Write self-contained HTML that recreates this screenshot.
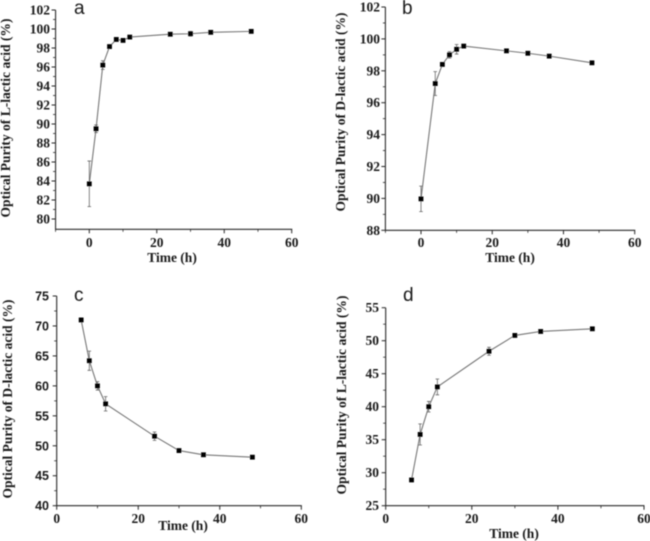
<!DOCTYPE html>
<html lang="en">
<head>
<meta charset="utf-8">
<title>Optical purity over time</title>
<style>
html,body{margin:0;padding:0;background:#fff;width:650px;height:541px;overflow:hidden}
svg{display:block}
text{font-family:"Liberation Serif",serif;font-weight:bold;fill:#1a1a1a}
.sans{font-family:"Liberation Sans",sans-serif}
</style>
</head>
<body>
<svg id="chart" xmlns="http://www.w3.org/2000/svg" width="650" height="541" viewBox="0 0 650 541">
<defs><filter id="soft" x="-5%" y="-5%" width="110%" height="110%"><feGaussianBlur stdDeviation="0.45"/></filter></defs>
<g id="root" filter="url(#soft)"></g>
</svg>
<script>
var panelNames = ['a', 'b', 'c', 'd'];
var timeA = [0, 2, 4, 6, 8, 10, 12, 24, 30, 36, 48];
var purityA = [83.7, 89.5, 96.2, 98.15, 98.9, 98.8, 99.15, 99.45, 99.5, 99.65, 99.75];
var errorA = [2.4, 0.4, 0.45, 0.1, 0.1, 0.1, 0.1, 0.1, 0.25, 0.1, 0.1];
var timeB = [0, 4, 6, 8, 10, 12, 24, 30, 36, 48];
var purityB = [89.97, 97.2, 98.4, 99, 99.35, 99.55, 99.25, 99.1, 98.92, 98.5];
var errorB = [0.8, 0.75, 0.1, 0.2, 0.3, 0.1, 0.08, 0.08, 0.08, 0.08];
var timeC = [6, 8, 10, 12, 24, 30, 36, 48];
var purityC = [71, 64.2, 60, 57, 51.6, 49.2, 48.5, 48.1];
var errorC = [0.3, 1.6, 0.7, 1.2, 0.7, 0.2, 0.2, 0.2];
var timeD = [6, 8, 10, 12, 24, 30, 36, 48];
var purityD = [28.9, 35.8, 40, 43, 48.4, 50.8, 51.4, 51.8];
var errorD = [0.1, 1.6, 0.8, 1.2, 0.6, 0.2, 0.2, 0.1];
var xTicksAB = [0, 20, 40, 60];
var xTicksCD = [0, 20, 40, 60];
var yTicksA = [80, 82, 84, 86, 88, 90, 92, 94, 96, 98, 100, 102];
var yTicksB = [88, 90, 92, 94, 96, 98, 100, 102];
var yTicksC = [40, 45, 50, 55, 60, 65, 70, 75];
var yTicksD = [25, 30, 35, 40, 45, 50, 55];
var yTitles = ['Optical Purity of L-lactic acid (%)', 'Optical Purity of D-lactic acid (%)', 'Optical Purity of D-lactic acid (%)', 'Optical Purity of L-lactic acid (%)'];
var xTitle = 'Time (h)';

var seriesByPanel = [
  {t: timeA, v: purityA, e: errorA, xt: xTicksAB, yt: yTicksA},
  {t: timeB, v: purityB, e: errorB, xt: xTicksAB, yt: yTicksB},
  {t: timeC, v: purityC, e: errorC, xt: xTicksCD, yt: yTicksC},
  {t: timeD, v: purityD, e: errorD, xt: xTicksCD, yt: yTicksD}
];
var layouts = [
  {x0:89.3, x60:291.7, xMin:-10, yHiV:102, yHiP:10, yLoV:80, yLoP:219, axisBottom:229.3, labelRight:50, tickBase:247, xtX:172, xtY:262, ytX:10, ytY:118, letterX:74, letterY:14, letterSize:19, sansY:false},
  {x0:421, x60:634.7, xMin:-10, yHiV:102, yHiP:7, yLoV:88, yLoP:230.3, axisBottom:230.3, labelRight:380, tickBase:247, xtX:510, xtY:262, ytX:345, ytY:112, letterX:402, letterY:14, letterSize:19, sansY:false},
  {x0:56.7, x60:301.3, xMin:0, yHiV:75, yHiP:296, yLoV:40, yLoP:505.7, axisBottom:505.7, labelRight:49, tickBase:523, xtX:183, xtY:530, ytX:12, ytY:399, letterX:74, letterY:301, letterSize:19, sansY:true},
  {x0:385.7, x60:644, xMin:0, yHiV:55, yHiP:307.7, yLoV:25, yLoP:505.7, axisBottom:505.7, labelRight:379, tickBase:523, xtX:514, xtY:538, ytX:346, ytY:395, letterX:403, letterY:301, letterSize:19, sansY:false}
];

var NS = 'http://www.w3.org/2000/svg';
var root = document.getElementById('root');
function mk(tag, attrs, parent) {
  var el = document.createElementNS(NS, tag);
  for (var k in attrs) el.setAttribute(k, attrs[k]);
  parent.appendChild(el);
  return el;
}
panelNames.forEach(function (name, p) {
  var L = layouts[p], S = seriesByPanel[p];
  var xScale = function (t) { return L.x0 + (L.x60 - L.x0) * t / 60; };
  var yScale = function (v) { return L.yLoP + (L.yHiP - L.yLoP) * (v - L.yLoV) / (L.yHiV - L.yLoV); };
  var g = mk('g', {}, root);
  
  
  var axisColor = '#2a2a2a';
  var left = xScale(L.xMin), right = xScale(60), bottom = L.axisBottom, top = L.yHiP;

  var yAxis = mk('line', {x1: left, x2: left, y1: top, y2: bottom, stroke: axisColor, 'stroke-width': 1.1}, g);
  
  
  var xAxis = mk('line', {x1: left - 0.5, x2: right + 0.5, y1: bottom, y2: bottom, stroke: axisColor, 'stroke-width': 1.1}, g);
  
  

  S.yt.forEach(function (v, i) {
    var y = yScale(v);
    var tick = mk('line', {x1: left - 4, x2: left, y1: y, y2: y, stroke: axisColor, 'stroke-width': 1}, g);
    
    
    if (i < S.yt.length - 1) {
      var my = yScale((v + S.yt[i + 1]) / 2);
      var minor = mk('line', {x1: left - 2.5, x2: left, y1: my, y2: my, stroke: axisColor, 'stroke-width': 0.8}, g);
      
      
    }
    var lab = mk('text', {x: L.labelRight, y: y + 4.5, 'text-anchor': 'end', 'font-size': L.sansY ? 12.5 : 13.5}, g);
    if (L.sansY) lab.setAttribute('class', 'sans');
    lab.textContent = v;
    
    
  });

  S.xt.forEach(function (t, i) {
    var x = xScale(t);
    var tick = mk('line', {x1: x, x2: x, y1: bottom, y2: bottom + 4, stroke: axisColor, 'stroke-width': 1}, g);
    
    
    if (i < S.xt.length - 1) {
      var mx = xScale((t + S.xt[i + 1]) / 2);
      var minor = mk('line', {x1: mx, x2: mx, y1: bottom, y2: bottom + 2.5, stroke: axisColor, 'stroke-width': 0.8}, g);
      
      
    }
    var lab = mk('text', {x: x, y: L.tickBase, 'text-anchor': 'middle', 'font-size': 13.5}, g);
    lab.textContent = t;
    
    
  });

  if (L.xMin < 0) {
    var mx0 = xScale(L.xMin);
    var edge = mk('line', {x1: mx0, x2: mx0, y1: bottom, y2: bottom + 2.5, stroke: axisColor, 'stroke-width': 0.8}, g);
    
    
  }

  var pts = S.t.map(function (t, i) { return xScale(t).toFixed(2) + ',' + yScale(S.v[i]).toFixed(2); }).join(' ');
  var line = mk('polyline', {points: pts, fill: 'none', stroke: '#777', 'stroke-width': 1.1}, g);
  
  

  S.t.forEach(function (t, i) {
    var x = xScale(t), hi = yScale(S.v[i] + S.e[i]), lo = yScale(S.v[i] - S.e[i]);
    var bar = mk('path', {d: 'M' + x + ' ' + hi + 'V' + lo + 'M' + (x - 1.8) + ' ' + hi + 'H' + (x + 1.8) + 'M' + (x - 1.8) + ' ' + lo + 'H' + (x + 1.8), fill: 'none', stroke: '#666', 'stroke-width': 0.8}, g);
    
    
  });
  S.t.forEach(function (t, i) {
    var pt = mk('rect', {x: xScale(t) - 2.4, y: yScale(S.v[i]) - 2.4, width: 4.8, height: 4.8, fill: '#000'}, g);
    
    
  });

  var xLabel = mk('text', {x: L.xtX, y: L.xtY, 'text-anchor': 'middle', 'font-size': 13.5}, g);
  xLabel.textContent = xTitle;
  
  

  var yLabel = mk('text', {x: 0, y: 0, 'text-anchor': 'middle', 'font-size': 13.2, transform: 'translate(' + L.ytX + ' ' + L.ytY + ') rotate(-90)', textLength: 199, lengthAdjust: 'spacingAndGlyphs'}, g);
  yLabel.textContent = yTitles[p];
  
  

  var letter = mk('text', {x: L.letterX, y: L.letterY, 'font-size': L.letterSize, 'class': 'sans', style: 'font-weight:normal'}, g);
  letter.textContent = name;
  
  
});
</script>
</body>
</html>
